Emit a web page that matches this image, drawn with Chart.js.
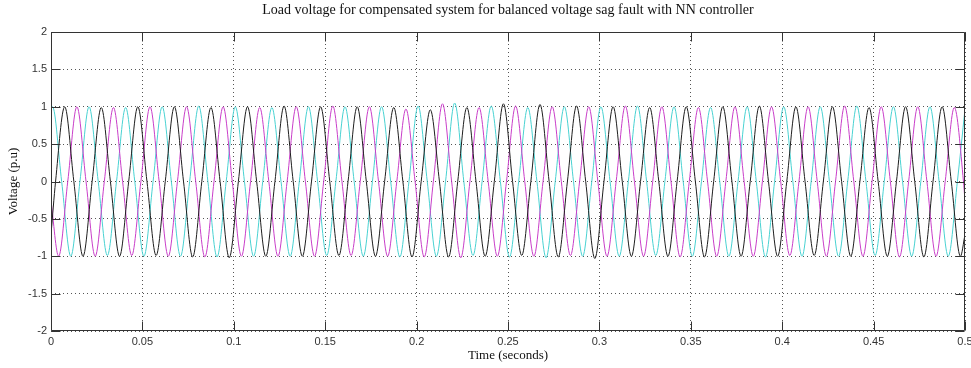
<!DOCTYPE html>
<html>
<head>
<meta charset="utf-8">
<title>Load voltage - NN controller</title>
<script src="https://cdn.jsdelivr.net/npm/chart.js@4.4.0/dist/chart.umd.min.js"></script>
<style>
  html, body { margin: 0; padding: 0; background: #fff; }
  canvas { display: block; }
</style>
</head>
<body>
<canvas id="myChart" width="971" height="368"></canvas>
<script>
// ---- data ----
// each phase is sampled at its own quarter-cycle instants (50 Hz => 5 ms steps),
// i.e. zero crossings and peaks, plus the values at t = 0 and t = 0.5 s
const quarterStep = 0.005;

const blackStart = 0.0025;
const blackEdges = [-0.71, -0.71];
const blackQuarter = [
  0, 1.00, 0, -1.00,  0, 0.99, 0, -1.00,  0, 1.00, 0, -0.99,  0, 1.00, 0, -1.01,
  0, 0.99, 0, -1.02,  0, 1.00, 0, -1.00,  0, 1.01, 0, -1.00,  0, 1.00, 0, -0.99,
  0, 1.00, 0, -1.00,  0, 0.99, 0, -1.01,  0, 0.96, 0, -1.01,  0, 0.99, 0, -1.00,
  0, 1.04, 0, -0.99,  0, 1.03, 0, -1.01,  0, 1.01, 0, -1.03,  0, 1.00, 0, -1.00,
  0, 0.99, 0, -1.00,  0, 1.00, 0, -1.01,  0, 1.00, 0, -1.00,  0, 1.01, 0, -1.00,
  0, 1.00, 0, -0.99,  0, 1.00, 0, -1.00,  0, 0.99, 0, -1.00,  0, 1.00, 0, -1.01,
  0, 1.00, 0, -1.00
];

const magentaStart = 0.004167;
const magentaEdges = [-0.26, -0.26];
const magentaQuarter = [
  -1.00, 0, 1.00, 0,  -1.00, 0, 0.99, 0,  -0.99, 0, 1.00, 0,  -1.00, 0, 1.00, 0,
  -1.01, 0, 1.00, 0,  -1.00, 0, 0.99, 0,  -1.00, 0, 1.00, 0,  -1.00, 0, 1.01, 0,
  -0.99, 0, 1.00, 0,  -1.00, 0, 0.97, 0,  -1.01, 0, 1.04, 0,  -1.02, 0, 0.99, 0,
  -1.00, 0, 1.01, 0,  -1.00, 0, 1.00, 0,  -0.99, 0, 1.00, 0,  -1.00, 0, 1.01, 0,
  -1.00, 0, 1.00, 0,  -1.01, 0, 0.99, 0,  -1.00, 0, 1.00, 0,  -1.00, 0, 1.00, 0,
  -0.99, 0, 1.00, 0,  -1.00, 0, 1.01, 0,  -1.00, 0, 1.00, 0,  -1.01, 0, 1.00, 0,
  -1.00, 0, 0.99, 0
];

const cyanStart = 0.000833;
const cyanEdges = [0.97, 0.97];
const cyanQuarter = [
  1.00, 0, -1.00, 0,  1.00, 0, -0.99, 0,  0.99, 0, -1.00, 0,  1.00, 0, -1.00, 0,
  1.01, 0, -1.01, 0,  1.00, 0, -1.00, 0,  0.99, 0, -1.00, 0,  1.00, 0, -0.99, 0,
  1.00, 0, -1.00, 0,  1.00, 0, -1.01, 0,  1.01, 0, -1.00, 0,  1.05, 0, -0.99, 0,
  1.01, 0, -1.01, 0,  0.99, 0, -1.02, 0,  1.00, 0, -1.00, 0,  1.00, 0, -1.00, 0,
  1.01, 0, -0.99, 0,  1.00, 0, -1.00, 0,  0.99, 0, -1.00, 0,  1.00, 0, -1.01, 0,
  1.00, 0, -1.00, 0,  1.00, 0, -1.00, 0,  1.01, 0, -0.99, 0,  1.00, 0, -1.00, 0,
  1.00, 0, -1.00, 0
];

const timeTicks = [0, 0.05, 0.1, 0.15, 0.2, 0.25, 0.3, 0.35, 0.4, 0.45, 0.5];
const timeLabels = ['0', '0.05', '0.1', '0.15', '0.2', '0.25', '0.3', '0.35', '0.4', '0.45', '0.5'];
const voltTicks = [-2, -1.5, -1, -0.5, 0, 0.5, 1, 1.5, 2];
const voltLabels = ['-2', '-1.5', '-1', '-0.5', '0', '0.5', '1', '1.5', '2'];

const chartTitle = 'Load voltage for compensated system for balanced voltage sag fault with NN controller';
const tStart = 0, tEnd = 0.5;

const makePoints = (start, edges, values) => {
  const pts = [{x: tStart, y: edges[0]}];
  values.forEach((v, i) => pts.push({x: start + i * quarterStep, y: v}));
  pts.push({x: tEnd, y: edges[1]});
  return pts;
};

// MATLAB style box with inward ticks on all four sides
const matlabBox = {
  id: 'matlabBox',
  afterDraw(chart) {
    const {ctx, chartArea: a, scales} = chart;
    const L = Math.round(a.left) + 0.5, R = Math.round(a.right) - 0.5;
    const T = Math.round(a.top) + 0.5, B = Math.round(a.bottom) - 0.5;
    const tick = 9;
    ctx.save();
    ctx.strokeStyle = '#333';
    ctx.lineWidth = 1;
    ctx.beginPath();
    ctx.rect(L, T, R - L, B - T);
    timeTicks.forEach(v => {
      const px = Math.round(scales.x.getPixelForValue(v)) + 0.5;
      ctx.moveTo(px, B); ctx.lineTo(px, B - tick);
      ctx.moveTo(px, T); ctx.lineTo(px, T + tick);
    });
    voltTicks.forEach(v => {
      const py = Math.round(scales.y.getPixelForValue(v)) + 0.5;
      ctx.moveTo(L, py); ctx.lineTo(L + tick, py);
      ctx.moveTo(R, py); ctx.lineTo(R - tick, py);
    });
    ctx.stroke();
    ctx.restore();
  }
};

const tickFont = {family: 'Liberation Sans', size: 11};
const titleFont = {family: 'Liberation Serif', size: 14, weight: 'normal'};
const labelFont = {family: 'Liberation Serif', size: 13, weight: 'normal'};

var ctx = document.getElementById('myChart').getContext('2d');

var myChart = new Chart(ctx, {
  type: 'line',
  data: {
    datasets: [
      {label: 'black', data: makePoints(blackStart, blackEdges, blackQuarter), borderColor: '#1e1e1e'},
      {label: 'magenta', data: makePoints(magentaStart, magentaEdges, magentaQuarter), borderColor: '#c93ec9'},
      {label: 'cyan', data: makePoints(cyanStart, cyanEdges, cyanQuarter), borderColor: '#48d2d2'}
    ]
  },
  options: {
    responsive: false,
    animation: false,
    devicePixelRatio: 1,
    elements: {
      line: {borderWidth: 1, cubicInterpolationMode: 'monotone', fill: false},
      point: {radius: 0, hoverRadius: 0}
    },
    layout: {padding: {left: 0, right: 6, top: 0, bottom: 0}},
    scales: {
      x: {
        type: 'linear', min: tStart, max: tEnd,
        afterBuildTicks: s => { s.ticks = timeTicks.map(v => ({value: v})); },
        afterFit: s => { s.height = 37; s.paddingLeft = 0; s.paddingRight = 0; },
        grid: {color: '#555', lineWidth: 1, drawTicks: false},
        border: {display: false, dash: [1, 3]},
        ticks: {padding: 4, color: '#333', font: tickFont, maxRotation: 0, autoSkip: false,
                callback: (v, i) => timeLabels[i]},
        title: {display: true, text: 'Time (seconds)', color: '#111', font: labelFont, padding: {top: 0, bottom: 5}}
      },
      y: {
        type: 'linear', min: -2, max: 2,
        afterBuildTicks: s => { s.ticks = voltTicks.map(v => ({value: v})); },
        afterFit: s => { s.width = 51; },
        grid: {color: '#555', lineWidth: 1, drawTicks: false},
        border: {display: false, dash: [1, 3]},
        ticks: {padding: 4, color: '#333', font: tickFont, autoSkip: false,
                callback: (v, i) => voltLabels[i]},
        title: {display: true, text: 'Voltage (p.u)', color: '#111', font: labelFont, padding: {top: 6, bottom: 0}}
      }
    },
    plugins: {
      legend: {display: false},
      tooltip: {enabled: false},
      title: {
        display: true, text: chartTitle, fullSize: false, color: '#111', font: titleFont,
        padding: {top: 1.6, bottom: 13.6}
      }
    }
  },
  plugins: [matlabBox]
});
</script>
</body>
</html>
